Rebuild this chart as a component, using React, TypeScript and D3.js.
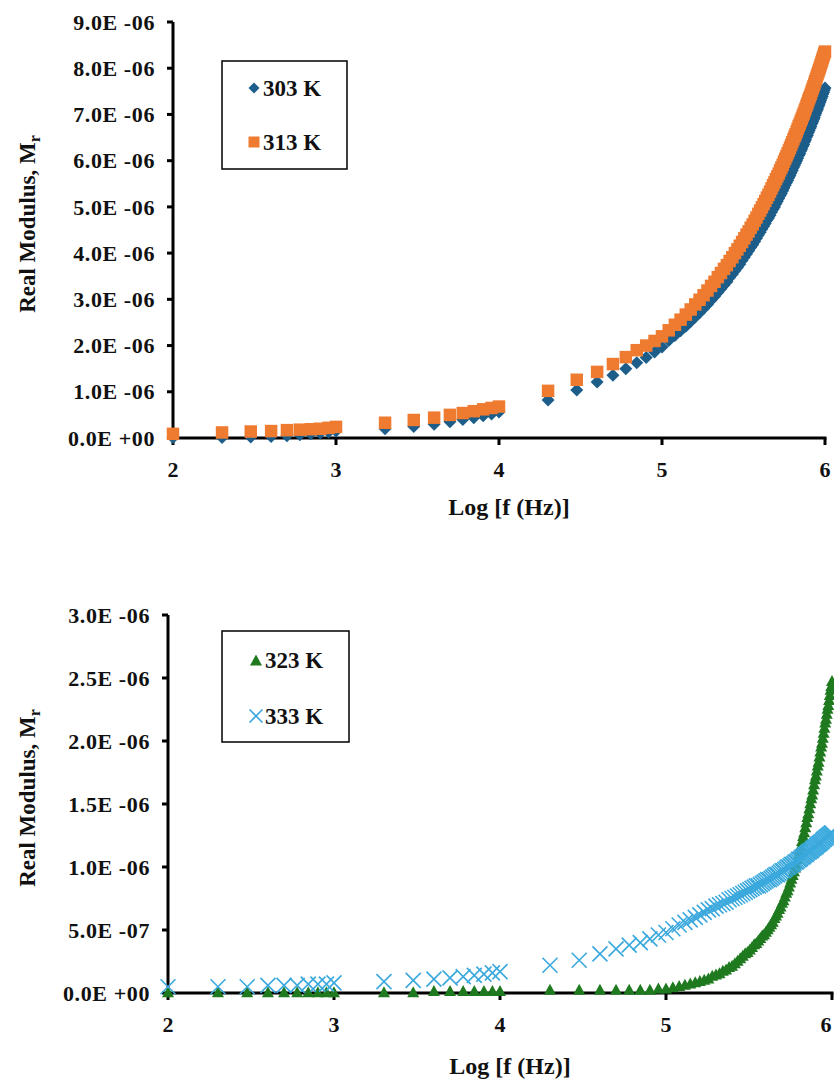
import React from "react";
import * as d3 from "d3";

// frequency grid in kHz
const freqKHz = [
  0.1, 0.2, 0.3, 0.4, 0.5, 0.6, 0.7, 0.8, 0.9, 1,
  2, 3, 4, 5, 6, 7, 8, 9, 10,
  20, 30, 40, 50, 60, 70, 80, 90, 100,
  110, 120, 130, 140, 150, 160, 170, 180, 190, 200,
  210, 220, 230, 240, 250, 260, 270, 280, 290, 300,
  310, 320, 330, 340, 350, 360, 370, 380, 390, 400,
  410, 420, 430, 440, 450, 460, 470, 480, 490, 500,
  510, 520, 530, 540, 550, 560, 570, 580, 590, 600,
  610, 620, 630, 640, 650, 660, 670, 680, 690, 700,
  710, 720, 730, 740, 750, 760, 770, 780, 790, 800,
  810, 820, 830, 840, 850, 860, 870, 880, 890, 900,
  910, 920, 930, 940, 950, 960, 970, 980, 990, 1000,
];

// real modulus values, x 1e-6
const m303 = [
  0.01, 0.01, 0.02, 0.03, 0.05, 0.07, 0.09, 0.11, 0.13, 0.15,
  0.2, 0.25, 0.3, 0.35, 0.4, 0.44, 0.48, 0.52, 0.56,
  0.82, 1.04, 1.21, 1.36, 1.5, 1.63, 1.74, 1.86, 1.97,
  2.11, 2.22, 2.32, 2.42, 2.52, 2.62, 2.71, 2.8, 2.89, 2.98,
  3.06, 3.15, 3.23, 3.31, 3.38, 3.47, 3.54, 3.62, 3.69, 3.76,
  3.84, 3.91, 3.98, 4.05, 4.12, 4.18, 4.25, 4.32, 4.39, 4.45,
  4.52, 4.58, 4.64, 4.71, 4.76, 4.82, 4.89, 4.95, 5.0, 5.07,
  5.12, 5.18, 5.24, 5.29, 5.35, 5.41, 5.47, 5.52, 5.57, 5.63,
  5.68, 5.74, 5.79, 5.85, 5.9, 5.95, 6.0, 6.05, 6.11, 6.15,
  6.21, 6.25, 6.31, 6.35, 6.41, 6.45, 6.51, 6.55, 6.61, 6.65,
  6.7, 6.74, 6.8, 6.84, 6.89, 6.93, 6.99, 7.03, 7.08, 7.12,
  7.17, 7.21, 7.26, 7.3, 7.35, 7.39, 7.44, 7.48, 7.53, 7.57,
];

const m313 = [
  0.09, 0.12, 0.14, 0.15, 0.17, 0.18, 0.19, 0.2, 0.22, 0.24,
  0.33, 0.39, 0.44, 0.5, 0.54, 0.58, 0.62, 0.65, 0.68,
  1.02, 1.26, 1.43, 1.6, 1.75, 1.9, 2.0, 2.1, 2.2,
  2.33, 2.45, 2.56, 2.67, 2.78, 2.89, 2.99, 3.09, 3.19, 3.29,
  3.38, 3.48, 3.57, 3.66, 3.74, 3.83, 3.91, 4.0, 4.08, 4.16,
  4.24, 4.32, 4.4, 4.47, 4.55, 4.62, 4.7, 4.77, 4.85, 4.92,
  4.99, 5.06, 5.13, 5.2, 5.26, 5.33, 5.4, 5.47, 5.53, 5.6,
  5.66, 5.72, 5.79, 5.85, 5.91, 5.98, 6.04, 6.1, 6.16, 6.22,
  6.28, 6.34, 6.4, 6.46, 6.52, 6.57, 6.63, 6.69, 6.75, 6.8,
  6.86, 6.91, 6.97, 7.02, 7.08, 7.13, 7.19, 7.24, 7.3, 7.35,
  7.4, 7.45, 7.51, 7.56, 7.61, 7.66, 7.72, 7.77, 7.82, 7.87,
  7.92, 7.97, 8.02, 8.07, 8.12, 8.17, 8.22, 8.27, 8.32, 8.36,
];

const m323 = [
  0.01, 0.01, 0.01, 0.01, 0.01, 0.01, 0.01, 0.01, 0.01, 0.01,
  0.01, 0.01, 0.02, 0.02, 0.02, 0.02, 0.02, 0.02, 0.02,
  0.03, 0.03, 0.03, 0.03, 0.03, 0.03, 0.03, 0.04, 0.04,
  0.05, 0.06, 0.07, 0.08, 0.09, 0.1, 0.11, 0.12, 0.14, 0.15,
  0.16, 0.18, 0.19, 0.21, 0.22, 0.24, 0.26, 0.28, 0.3, 0.32,
  0.33, 0.35, 0.37, 0.39, 0.4, 0.42, 0.44, 0.46, 0.47, 0.49,
  0.51, 0.53, 0.55, 0.57, 0.6, 0.62, 0.64, 0.67, 0.69, 0.72,
  0.74, 0.77, 0.8, 0.82, 0.85, 0.88, 0.91, 0.94, 0.97, 1.0,
  1.03, 1.07, 1.1, 1.14, 1.17, 1.21, 1.25, 1.28, 1.32, 1.36,
  1.4, 1.43, 1.47, 1.51, 1.55, 1.58, 1.62, 1.66, 1.7, 1.73,
  1.77, 1.81, 1.84, 1.88, 1.92, 1.96, 1.99, 2.03, 2.07, 2.11,
  2.15, 2.18, 2.22, 2.26, 2.29, 2.33, 2.37, 2.41, 2.44, 2.48,
];

const m333 = [
  0.05, 0.05, 0.05, 0.06, 0.06, 0.06, 0.07, 0.07, 0.07, 0.08,
  0.09, 0.1, 0.11, 0.12, 0.13, 0.14, 0.15, 0.16, 0.17,
  0.22, 0.26, 0.31, 0.35, 0.38, 0.4, 0.43, 0.46, 0.48,
  0.51, 0.54, 0.56, 0.58, 0.6, 0.62, 0.64, 0.66, 0.67, 0.69,
  0.7, 0.71, 0.72, 0.74, 0.75, 0.76, 0.77, 0.78, 0.79, 0.8,
  0.81, 0.82, 0.83, 0.84, 0.85, 0.85, 0.86, 0.87, 0.88, 0.89,
  0.9, 0.9, 0.91, 0.92, 0.93, 0.94, 0.94, 0.95, 0.96, 0.97,
  0.97, 0.98, 0.99, 1.0, 1.0, 1.01, 1.02, 1.02, 1.03, 1.04,
  1.04, 1.05, 1.06, 1.06, 1.07, 1.08, 1.08, 1.09, 1.1, 1.1,
  1.11, 1.12, 1.12, 1.13, 1.13, 1.14, 1.15, 1.15, 1.16, 1.16,
  1.17, 1.18, 1.18, 1.19, 1.19, 1.2, 1.2, 1.21, 1.22, 1.22,
  1.23, 1.23, 1.24, 1.24, 1.25, 1.25, 1.26, 1.26, 1.27, 1.27,
];

const xTicks = [2, 3, 4, 5, 6];
const topYTicks = [0, 1, 2, 3, 4, 5, 6, 7, 8, 9];
const topYLabels = ["0.0E +00", "1.0E -06", "2.0E -06", "3.0E -06", "4.0E -06", "5.0E -06", "6.0E -06", "7.0E -06", "8.0E -06", "9.0E -06"];
const botYTicks = [0, 0.5, 1, 1.5, 2, 2.5, 3];
const botYLabels = ["0.0E +00", "5.0E -07", "1.0E -06", "1.5E -06", "2.0E -06", "2.5E -06", "3.0E -06"];

const FONT = "'Liberation Serif', 'Times New Roman', serif";
const C303 = "#1c5d8a";
const C313 = "#ee7b30";
const C323 = "#1f7a1f";
const C333 = "#3ba9dd";

const logF = freqKHz.map(f => Math.log10(f * 1000));

const diamond = (r: number) => `M0,${-r}L${r},0L0,${r}L${-r},0Z`;
const square = (s: number) => `M${-s / 2},${-s / 2}h${s}v${s}h${-s}Z`;
const triangle = (w: number, h: number) => `M0,${-h / 2}L${w / 2},${h / 2}L${-w / 2},${h / 2}Z`;
const cross = (r: number) => `M${-r},${-r}L${r},${r}M${-r},${r}L${r},${-r}`;

type AxesProps = {
  x: d3.ScaleLinear<number, number>;
  y: d3.ScaleLinear<number, number>;
  yTicks: number[];
  yLabels: string[];
  titleY: number;
};

const Axes = ({ x, y, yTicks, yLabels, titleY }: AxesProps) => {
  const [x0, x1] = x.range();
  const [yb, yt] = y.range();
  const yMid = (yb + yt) / 2;
  return (
    <g fontFamily={FONT} fontWeight="bold" fill="#111">
      <line x1={x0} x2={x0} y1={yt} y2={yb + 1.5} stroke="#000" strokeWidth={3} />
      <line x1={x0 - 1.5} x2={x1 + 1.5} y1={yb} y2={yb} stroke="#000" strokeWidth={3} />
      {yTicks.map((t, i) => (
        <g key={t}>
          <line x1={x0 - 6} x2={x0} y1={y(t)} y2={y(t)} stroke="#000" strokeWidth={3} />
          <text x={x0 - 18} y={y(t)} dy="0.35em" textAnchor="end" fontSize={22} letterSpacing={0.6}>
            {yLabels[i]}
          </text>
        </g>
      ))}
      {xTicks.map(t => (
        <g key={t}>
          <line x1={x(t)} x2={x(t)} y1={yb} y2={yb + 7} stroke="#000" strokeWidth={3} />
          <text x={Math.min(x(t), 826)} y={yb + 31} dy="0.35em" textAnchor="middle" fontSize={22}>
            {t}
          </text>
        </g>
      ))}
      <text x={(x0 + x1) / 2 + 10} y={titleY} dy="0.35em" textAnchor="middle" fontSize={24}>
        Log [f (Hz)]
      </text>
      <text transform={`translate(27,${yMid - 6}) rotate(-90)`} dy="0.35em" textAnchor="middle" fontSize={23}>
        Real Modulus, M<tspan fontSize={16} dy="5">r</tspan>
      </text>
    </g>
  );
};

const App = () => {
  const xTop = d3.scaleLinear().domain([2, 6]).range([173, 825]);
  const yTop = d3.scaleLinear().domain([0, 9]).range([438, 22]);
  const xBot = d3.scaleLinear().domain([2, 6]).range([168, 832]);
  const yBot = d3.scaleLinear().domain([0, 3]).range([993, 615]);

  return (
    <svg width={834} height={1082} style={{ position: "absolute", left: 0, top: 0, background: "#fff" }}>
      {/* top panel */}
      <Axes x={xTop} y={yTop} yTicks={topYTicks} yLabels={topYLabels} titleY={507} />
      <g fill={C303}>
        {logF.map((lf, i) => (
          <path key={i} d={diamond(6.5)} transform={`translate(${xTop(lf)},${yTop(m303[i])})`} />
        ))}
      </g>
      <g fill={C313}>
        {logF.map((lf, i) => (
          <path key={i} d={square(12.5)} transform={`translate(${xTop(lf)},${yTop(m313[i])})`} />
        ))}
      </g>
      <g fontFamily={FONT} fontWeight="bold" fontSize={23} fill="#111">
        <rect x={222} y={61} width={125} height={108} fill="none" stroke="#000" strokeWidth={1.5} />
        <path d={diamond(5.5)} transform="translate(254,88)" fill={C303} />
        <text x={263} y={88} dy="0.35em">303 K</text>
        <path d={square(11)} transform="translate(254,142)" fill={C313} />
        <text x={263} y={142} dy="0.35em">313 K</text>
      </g>

      {/* bottom panel */}
      <Axes x={xBot} y={yBot} yTicks={botYTicks} yLabels={botYLabels} titleY={1066} />
      <g fill={C323}>
        {logF.map((lf, i) => (
          <path key={i} d={triangle(12, 11)} transform={`translate(${xBot(lf)},${yBot(m323[i])})`} />
        ))}
      </g>
      <g fill="none" stroke={C333} strokeWidth={1.6}>
        {logF.map((lf, i) => (
          <path key={i} d={cross(7.5)} transform={`translate(${xBot(lf)},${yBot(m333[i])})`} />
        ))}
      </g>
      <g fontFamily={FONT} fontWeight="bold" fontSize={23} fill="#111">
        <rect x={222} y={631} width={127} height={111} fill="none" stroke="#000" strokeWidth={1.5} />
        <path d={triangle(12, 11)} transform="translate(256,660)" fill={C323} />
        <text x={265} y={660} dy="0.35em">323 K</text>
        <path d={cross(6.5)} transform="translate(256,716)" fill="none" stroke={C333} strokeWidth={1.6} />
        <text x={265} y={716} dy="0.35em">333 K</text>
      </g>
    </svg>
  );
};

export default App;
